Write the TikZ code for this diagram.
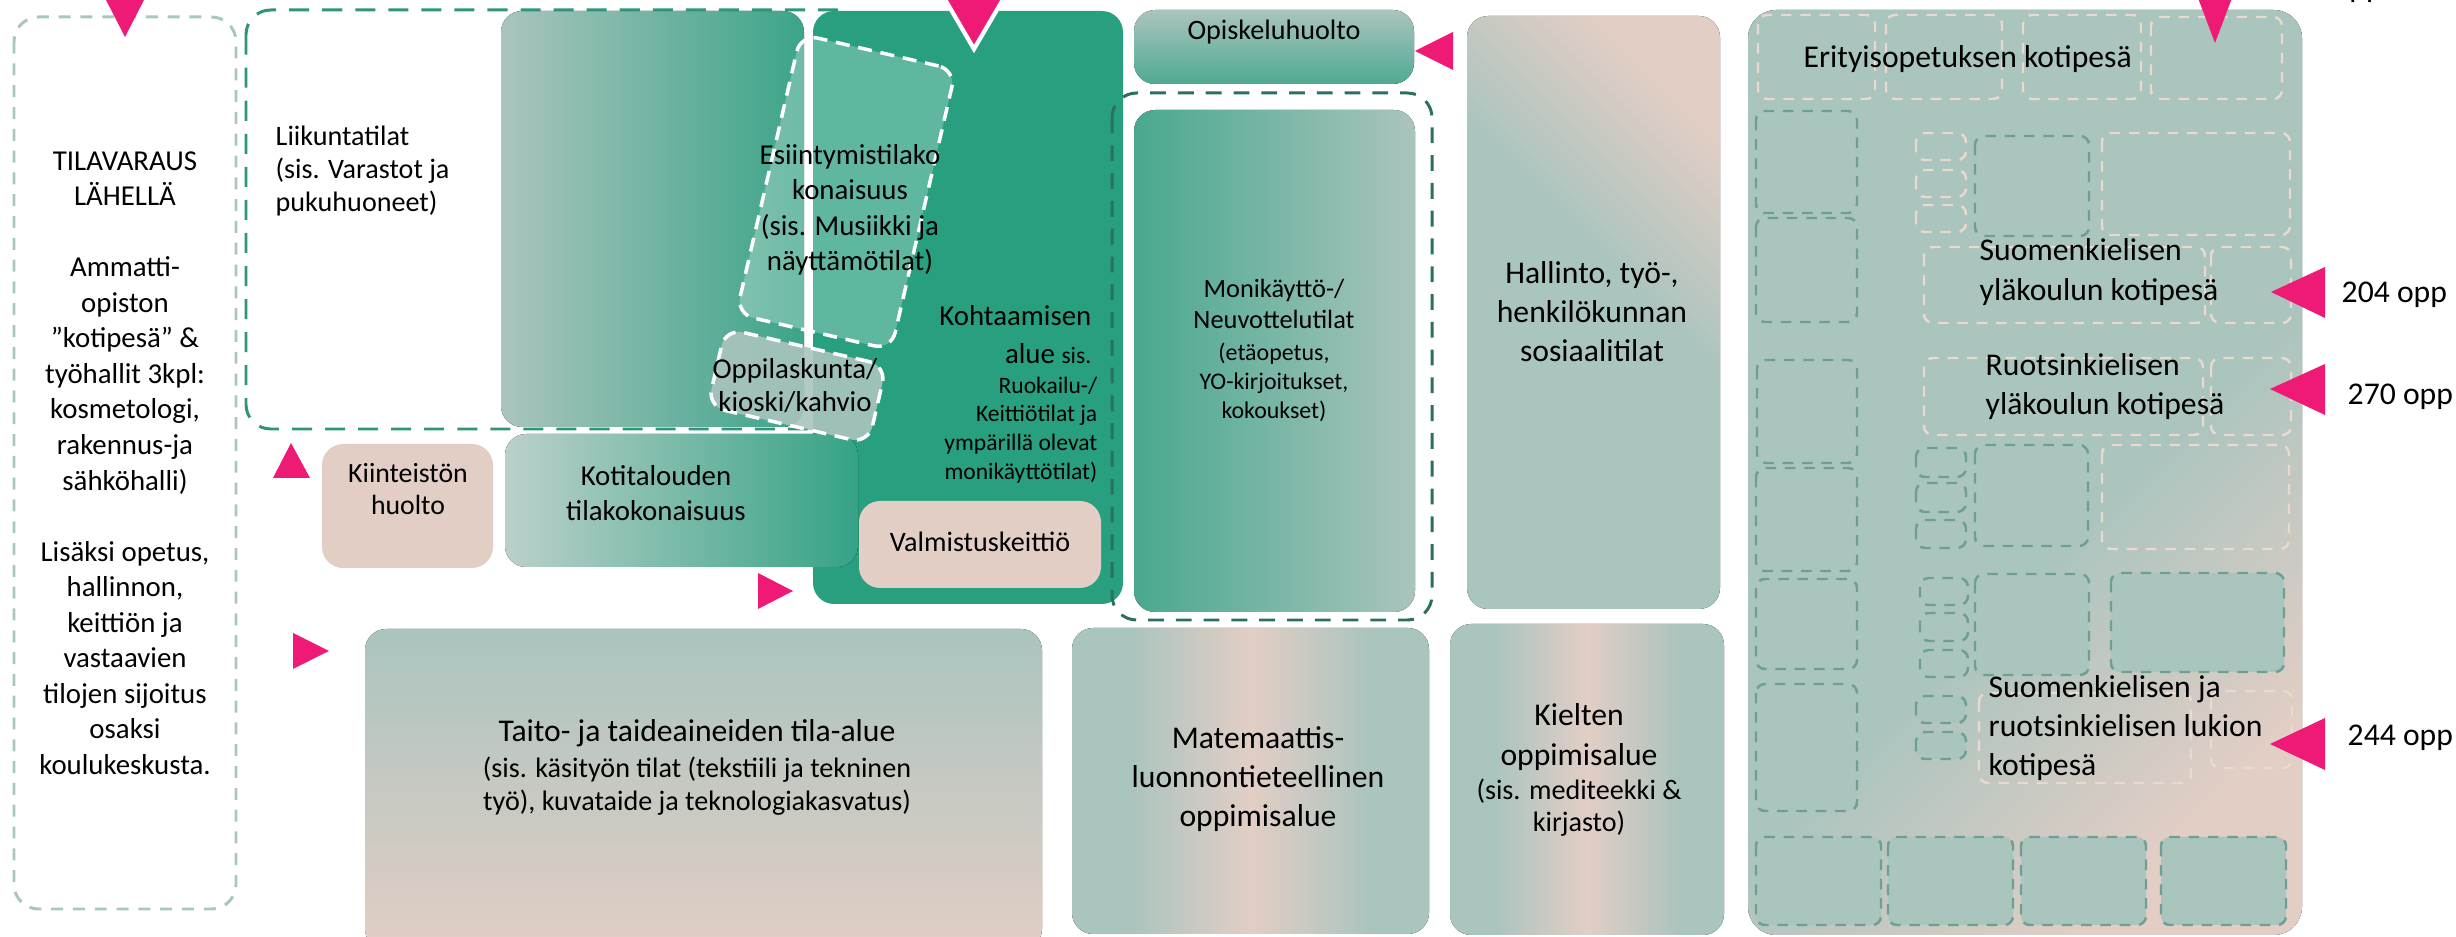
\documentclass[tikz,border=0pt]{standalone}
\usepackage{fontspec}
\setmainfont{Carlito}
\setsansfont{Carlito}
\usetikzlibrary{positioning}

\definecolor{tealL}{HTML}{AAC4BE}
\definecolor{beigeL}{HTML}{E2CEC5}
\definecolor{kohtGreen}{HTML}{289F7F}
\definecolor{dashGreen}{HTML}{2E9576}
\definecolor{darkDash}{HTML}{2B705F}
\definecolor{markPink}{HTML}{EF1A76}
\definecolor{leftDash}{HTML}{A9C6C0}
\definecolor{roomTeal}{HTML}{6F9E94}
\definecolor{roomBeige}{HTML}{EBD8CF}

\pgfdeclarehorizontalshading{midbeige}{100bp}{color(0bp)=(tealL); color(25bp)=(tealL); color(33bp)=(tealL); color(50bp)=(beigeL); color(67bp)=(tealL); color(75bp)=(tealL); color(100bp)=(tealL)}
\pgfdeclareverticalshading{cornerbeige}{100bp}{color(0bp)=(tealL); color(25bp)=(tealL); color(55bp)=(tealL); color(75bp)=(beigeL); color(100bp)=(beigeL)}

\newcommand{\txtmain}{\fontsize{8.2}{10.1}\selectfont}
\newcommand{\txtbig}{\fontsize{9}{11.1}\selectfont}
\newcommand{\txtsub}{\fontsize{8}{9.4}\selectfont}
\newcommand{\txtsmall}{\fontsize{6.7}{8.2}\selectfont}

\begin{document}
\begin{tikzpicture}[
  x=0.01cm, y=-0.01cm,
  font=\sffamily\txtmain,
  area/.style={rounded corners=6pt},
  beigebox/.style={area,fill=beigeL},
  zone/.style={rounded corners=7pt,line width=0.85pt,dash pattern=on 5.7pt off 3.7pt},
  tilt/.style={draw=white,line width=1pt,dash pattern=on 4pt off 2.5pt,rounded corners=5pt,rotate=-13},
  roomT/.style={draw=roomTeal,fill=tealL,line width=0.7pt,dash pattern=on 3pt off 2.5pt,rounded corners=2.5pt},
  roomB/.style={draw=roomBeige,line width=0.7pt,dash pattern=on 3pt off 2.5pt,rounded corners=2.5pt},
  marker/.style={fill=markPink},
  txt/.style={inner sep=0pt,align=center},
  every node/.style={inner sep=0pt}]

  \useasboundingbox (0,0) rectangle (2456,937);
  \clip (0,0) rectangle (2456,937);

  % Left column
  \draw[zone,draw=leftDash,dash pattern=on 3.4pt off 2.8pt] (14,17) rectangle (236,909);

  % Sports area, meeting area and the areas on top of them
  \fill[area,left color=tealL,right color=kohtGreen!85!tealL] (501,11) rectangle (804,427);
  \draw[zone,draw=dashGreen] (246,10) rectangle (862,429);
  \fill[area,fill=kohtGreen] (813,11) rectangle (1123,604);
  \fill[area,left color=tealL!80!white,right color=kohtGreen!90!tealL] (505,434) rectangle (858,567);
  \node[tilt,fill=white,fill opacity=0.26,minimum width=1.59cm,minimum height=2.87cm] (esiBox) at (846,192) {};
  \node[tilt,fill=tealL,fill opacity=0.9,minimum width=1.65cm,minimum height=0.8cm] (oppBox) at (797,386) {};
  \fill[beigebox] (859,501) rectangle (1101,588);
  \fill[beigebox] (322,444) rectangle (493,568);

  % Middle column
  \fill[area,top color=tealL,bottom color=kohtGreen!70!tealL] (1134,10) rectangle (1414,84);
  \draw[zone,draw=darkDash,dash pattern=on 4.5pt off 3.4pt] (1112,93) rectangle (1432,620);
  \fill[area,left color=kohtGreen!75!tealL,right color=tealL] (1134,110) rectangle (1415,612);
  \fill[area,shading=cornerbeige,shading angle=-45] (1467,16) rectangle (1720,609);

  % Bottom row
  \fill[area,top color=tealL,middle color=tealL!75!beigeL,bottom color=beigeL] (365,629) rectangle (1042,950);
  \fill[area,shading=midbeige] (1072,628) rectangle (1429,934);
  \fill[area,shading=midbeige] (1450,624) rectangle (1724,935);

  % Home nests on the right
  \fill[rounded corners=8pt,shading=cornerbeige,shading angle=225] (1748,10) rectangle (2302,935);
  \draw[roomB] (1758,15) rectangle (1875,99);
  \draw[roomB] (1886,15) rectangle (2002,99);
  \draw[roomB] (2023,15) rectangle (2141,99);
  \draw[roomB] (2151,17) rectangle (2282,99);
  \draw[roomT] (1756,111) rectangle (1857,213);
  \draw[roomT] (1756,218) rectangle (1857,322);
  \draw[roomT] (1757,360) rectangle (1857,463);
  \draw[roomT] (1756,468) rectangle (1857,571);
  \draw[roomT] (1756,579) rectangle (1857,669);
  \draw[roomT] (1756,684) rectangle (1857,811);
  \draw[roomT] (1756,837) rectangle (1881,925);
  \draw[roomT] (1888,837) rectangle (2013,925);
  \draw[roomT] (2021,837) rectangle (2146,925);
  \draw[roomT] (2161,837) rectangle (2286,925);
  \draw[roomB] (1916,133) rectangle (1966,160);
  \draw[roomB] (1916,170) rectangle (1966,197);
  \draw[roomB] (1916,205) rectangle (1966,232);
  \draw[roomT] (1975,136) rectangle (2089,236);
  \draw[roomB] (2102,133) rectangle (2290,235);
  \draw[roomB] (1924,247) rectangle (2205,323);
  \draw[roomB] (2211,247) rectangle (2291,323);
  \draw[roomB] (1924,358) rectangle (2203,435);
  \draw[roomB] (2211,358) rectangle (2291,435);
  \draw[roomT] (1916,448) rectangle (1966,477);
  \draw[roomT] (1916,483) rectangle (1966,512);
  \draw[roomT] (1916,520) rectangle (1966,548);
  \draw[roomT] (1975,445) rectangle (2088,546);
  \draw[roomB] (2102,445) rectangle (2289,549);
  \draw[roomT] (1920,578) rectangle (1968,605);
  \draw[roomT] (1920,613) rectangle (1968,641);
  \draw[roomT] (1920,650) rectangle (1968,677);
  \draw[roomT] (1975,574) rectangle (2089,675);
  \draw[roomT] (2111,573) rectangle (2284,672);
  \draw[roomT] (1916,696) rectangle (1966,723);
  \draw[roomT] (1916,732) rectangle (1966,759);
  \draw[roomB] (1979,693) rectangle (2191,783);
  \draw[roomB] (2211,691) rectangle (2292,768);

  % Pink markers
  \fill[marker] (105,-2) -- (145,-2) -- (125,37) -- cycle;
  \filldraw[marker,draw=white,line width=1.2pt] (943,-4) -- (1005,-4) -- (974,49) -- cycle;
  \fill[marker] (2198,-2) -- (2232,-2) -- (2215,43) -- cycle;
  \fill[marker] (273,478) -- (310,478) -- (291,443) -- cycle;
  \fill[marker] (293,633) -- (293,669) -- (329,651) -- cycle;
  \fill[marker] (758,573) -- (758,609) -- (793,591) -- cycle;
  \fill[marker] (1453,32) -- (1453,70) -- (1415,51) -- cycle;
  \fill[marker] (2325,267) -- (2325,318) -- (2271,292) -- cycle;
  \fill[marker] (2325,364) -- (2325,415) -- (2270,389) -- cycle;
  \fill[marker] (2325,718) -- (2325,770) -- (2270,744) -- cycle;

  % Texts
  \node[txt] (varaus) at (125,463) {TILAVARAUS\\LÄHELLÄ\\[10.1pt]Ammatti-\\opiston\\”kotipesä” \&\\työhallit 3kpl:\\kosmetologi,\\rakennus-ja\\sähköhalli)\\[10.1pt]Lisäksi opetus,\\hallinnon,\\keittiön ja\\vastaavien\\tilojen sijoitus\\osaksi\\koulukeskusta.};
  \node[txt,align=left,anchor=west,font=\fontsize{8}{9.4}\selectfont] (liikunta) at (275,171) {Liikuntatilat\\(sis. Varastot ja\\pukuhuoneet)};
  \node[txt] (esiintymis) at (850,210) {Esiintymistilako\\konaisuus\\(sis. Musiikki ja\\näyttämötilat)};
  \node[txt,font=\fontsize{8.2}{9.4}\selectfont] (oppilas) at (795,386) {Oppilaskunta/\\kioski/kahvio};
  \node[txt,align=right,anchor=east,font=\fontsize{8.2}{10.8}\selectfont] (kohtaaminen) at (1092,335) {Kohtaamisen\\alue {\txtsmall sis.}};
  \node[txt,align=right,anchor=east,font=\txtsmall] (ruokailu) at (1098,430) {Ruokailu-/\\Keittiötilat ja\\ympärillä olevat\\monikäyttötilat)};
  \node[txt,font=\fontsize{7.9}{9.1}\selectfont] (kiinteisto) at (408,489) {Kiinteistön\\huolto};
  \node[txt,font=\fontsize{8.2}{10}\selectfont] (kotitalous) at (656,493) {Kotitalouden\\tilakokonaisuus};
  \node[txt,font=\txtsub] (valmistus) at (980,542) {Valmistuskeittiö};
  \node[txt,font=\txtsub] (opiskelu) at (1274,32) {Opiskeluhuolto};
  \node[txt,font=\fontsize{7.5}{8.8}\selectfont] (monikaytto) at (1274,304) {Monikäyttö-/\\Neuvottelutilat};
  \node[txt,font=\fontsize{6.8}{8.25}\selectfont] (etaopetus) at (1274,382) {(etäopetus,\\YO-kirjoitukset,\\kokoukset)};
  \node[txt,font=\txtbig] (hallinto) at (1592,312) {Hallinto, työ-,\\henkilökunnan\\sosiaalitilat};
  \node[txt,font=\txtbig] (taito) at (697,733) {Taito- ja taideaineiden tila-alue};
  \node[txt,font=\txtsub] (kasityo) at (697,786) {(sis. käsityön tilat (tekstiili ja tekninen\\työ), kuvataide ja teknologiakasvatus)};
  \node[txt,font=\txtbig] (matematiikka) at (1258,779) {Matemaattis-\\luonnontieteellinen\\oppimisalue};
  \node[txt,font=\fontsize{9}{11.4}\selectfont] (kielet) at (1579,737) {Kielten\\oppimisalue};
  \node[txt,font=\fontsize{8}{9.1}\selectfont] (mediteekki) at (1579,808) {(sis. mediteekki \&\\kirjasto)};
  \node[txt,anchor=west,font=\txtbig] (erityis) at (1803,59) {Erityisopetuksen kotipesä};
  \node[txt,align=left,anchor=west,font=\fontsize{9}{11.4}\selectfont] (suomiYla) at (1979,272) {Suomenkielisen\\yläkoulun kotipesä};
  \node[txt,align=left,anchor=west,font=\txtbig] (ruotsiYla) at (1985,387) {Ruotsinkielisen\\yläkoulun kotipesä};
  \node[txt,align=left,anchor=west,font=\txtbig] (lukio) at (1988,728) {Suomenkielisen ja\\ruotsinkielisen lukion\\kotipesä};
  \node[txt,anchor=base west,font=\txtbig] (oppTop) at (2332,-2) {opp};
  \node[txt,anchor=west,font=\txtbig] (opp204) at (2341,295) {204 opp};
  \node[txt,anchor=west,font=\txtbig] (opp270) at (2347,397) {270 opp};
  \node[txt,anchor=west,font=\txtbig] (opp244) at (2347,738) {244 opp};
\end{tikzpicture}
\end{document}
